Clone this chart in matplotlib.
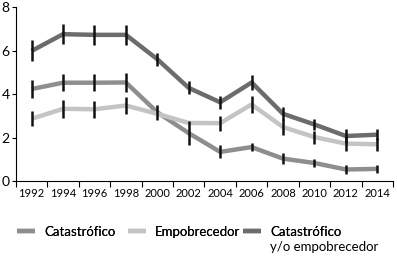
import numpy as np
import matplotlib.pyplot as plt

years = ['1992', '1994', '1996', '1998', '2000', '2002', '2004', '2006', '2008', '2010', '2012', '2014']

catastrofico = [4.23, 4.52, 4.52, 4.53, 3.16, 2.2, 1.34, 1.56, 1.03, 0.83, 0.53, 0.56]
empobrecedor = [2.86, 3.32, 3.3, 3.47, 3.09, 2.67, 2.66, 3.52, 2.48, 2.02, 1.72, 1.69]
ambos = [5.98, 6.75, 6.72, 6.72, 5.6, 4.28, 3.62, 4.53, 3.09, 2.6, 2.07, 2.13]

err_cat = [0.42, 0.4, 0.4, 0.45, 0.35, 0.55, 0.3, 0.2, 0.25, 0.18, 0.2, 0.2]
err_emp = [0.35, 0.4, 0.4, 0.4, 0.0, 0.0, 0.35, 0.4, 0.35, 0.3, 0.35, 0.3]
err_amb = [0.48, 0.45, 0.45, 0.45, 0.3, 0.3, 0.3, 0.35, 0.3, 0.25, 0.3, 0.25]

plt.rcParams['font.family'] = ['Lato', 'DejaVu Sans']

fig = plt.figure(figsize=(3.97, 2.59), dpi=100)
ax = fig.add_axes([0.040, 0.301, 0.950, 0.672])

x = np.arange(len(years))
series = [
    (catastrofico, err_cat, '#8e8e8e', 'Catastrófico'),
    (empobrecedor, err_emp, '#c4c4c4', 'Empobrecedor'),
    (ambos, err_amb, '#6c6c6c', 'Catastrófico'),
]
handles = []
for vals, err, col, lab in series:
    ln, = ax.plot(x, vals, color=col, lw=3.2, label=lab, solid_capstyle='butt', zorder=2)
    handles.append(ln)
    ax.errorbar(x, vals, yerr=err, fmt='none', ecolor='#111111', elinewidth=1.8, capsize=0, zorder=3)

ax.set_xlim(-0.5, len(years) - 0.5)
ax.set_ylim(0, 8)
ax.set_yticks([0, 2, 4, 6, 8])
ax.set_xticks(x)
ax.set_xticklabels(years)
ax.set_xticks(np.arange(len(years) + 1) - 0.5, minor=True)
ax.tick_params(axis='x', which='major', length=0, pad=5, labelsize=8)
ax.tick_params(axis='x', which='minor', length=4, width=0.8, direction='out')
ax.tick_params(axis='y', length=3, width=0.8, pad=1.5, labelsize=10)
for s in ['top', 'right']:
    ax.spines[s].set_visible(False)
for s in ['left', 'bottom']:
    ax.spines[s].set_linewidth(0.8)

# one legend per entry so each can sit where the original has it
leg_x = [0.043, 0.322, 0.612]
for h, lx in zip(handles, leg_x):
    lg = fig.legend(handles=[h], loc='center left', bbox_to_anchor=(lx, 0.104), frameon=False,
                    handlelength=1.36, handletextpad=0.68, fontsize=9.5,
                    borderaxespad=0, borderpad=0)
    fig.add_artist(lg)
fig.text(0.681, 0.046, 'y/o empobrecedor', fontsize=9.5, va='center', ha='left')

fig.savefig('out.png', dpi=100)
